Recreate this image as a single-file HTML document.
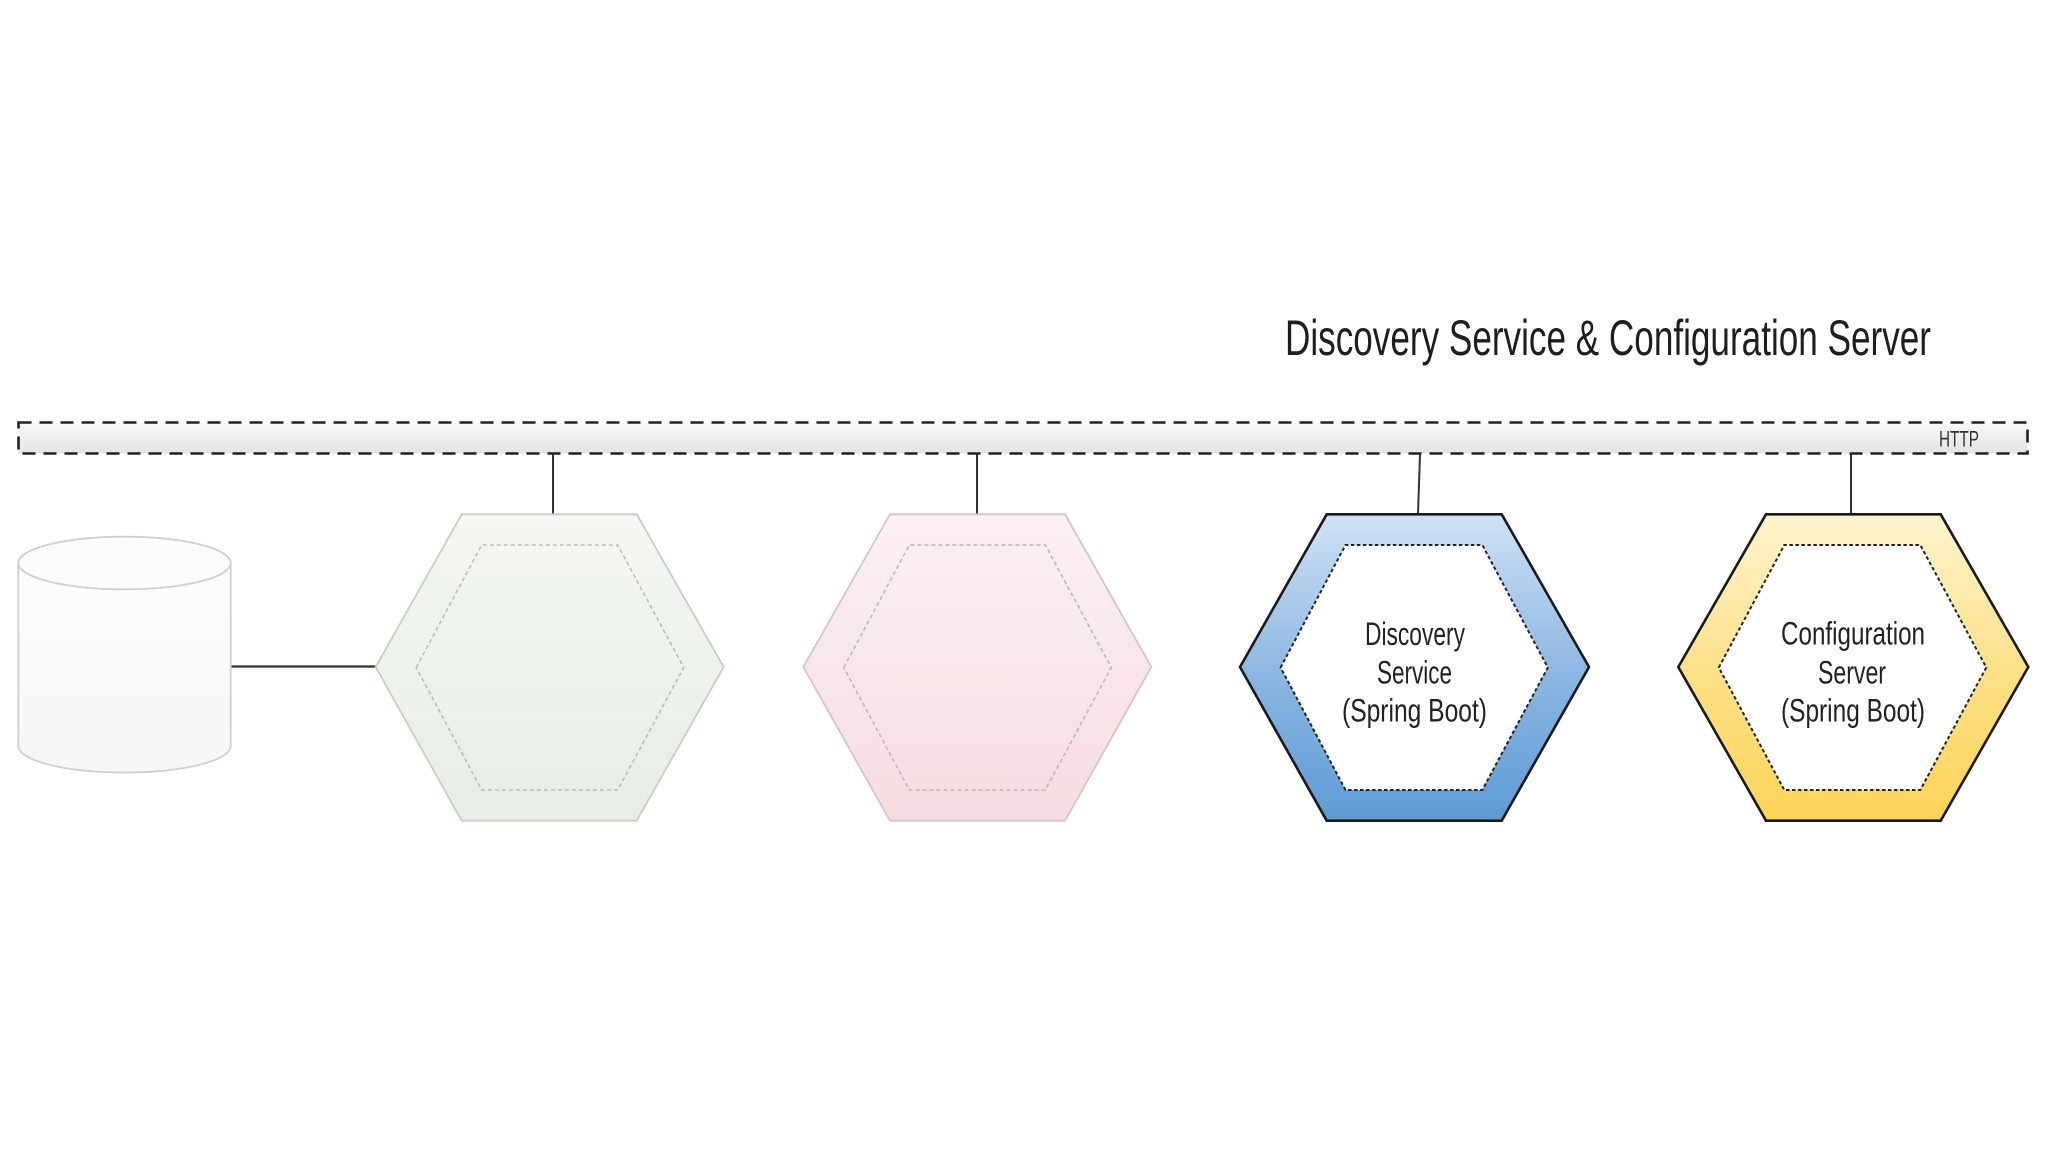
<!DOCTYPE html>
<html>
<head>
<meta charset="utf-8">
<style>
  html, body { margin: 0; padding: 0; background: #ffffff; }
  body { width: 2048px; height: 1152px; overflow: hidden; }
  svg { display: block; }
  text { font-family: "Liberation Sans", "DejaVu Sans", sans-serif; }
</style>
</head>
<body>
<svg width="2048" height="1152" viewBox="0 0 2048 1152" xmlns="http://www.w3.org/2000/svg">
  <defs>
    <linearGradient id="barG" x1="0" y1="0" x2="0" y2="1">
      <stop offset="0" stop-color="#f8f8f8"/>
      <stop offset="1" stop-color="#e4e4e4"/>
    </linearGradient>
    <linearGradient id="greenG" x1="0" y1="0" x2="0" y2="1">
      <stop offset="0" stop-color="#f4f7f2"/>
      <stop offset="1" stop-color="#e7eee5"/>
    </linearGradient>
    <linearGradient id="pinkG" x1="0" y1="0" x2="0" y2="1">
      <stop offset="0" stop-color="#fcf1f3"/>
      <stop offset="1" stop-color="#f5dce1"/>
    </linearGradient>
    <linearGradient id="blueG" x1="0" y1="0" x2="0" y2="1">
      <stop offset="0" stop-color="#cfe2f5"/>
      <stop offset="0.5" stop-color="#8fb8e3"/>
      <stop offset="1" stop-color="#5d9bd5"/>
    </linearGradient>
    <linearGradient id="yellowG" x1="0" y1="0" x2="0" y2="1">
      <stop offset="0" stop-color="#fef4d0"/>
      <stop offset="0.5" stop-color="#fde18a"/>
      <stop offset="1" stop-color="#fbd457"/>
    </linearGradient>
    <linearGradient id="cylG" x1="0" y1="0" x2="0" y2="1">
      <stop offset="0" stop-color="#fdfdfd"/>
      <stop offset="1" stop-color="#f6f6f6"/>
    </linearGradient>
  </defs>

  <!-- Title -->
  <text x="1285" y="355" font-size="50" fill="#1e1e1e" textLength="646" lengthAdjust="spacingAndGlyphs">Discovery Service &amp; Configuration Server</text>

  <!-- HTTP bar -->
  <rect x="18.5" y="422.5" width="2009" height="31" fill="url(#barG)" stroke="#222" stroke-width="2.6" stroke-dasharray="13 8"/>
  <text x="1939" y="446.5" font-size="22" fill="#333" textLength="40" lengthAdjust="spacingAndGlyphs">HTTP</text>

  <!-- connectors -->
  <line x1="553" y1="454" x2="553" y2="514" stroke="#333" stroke-width="2"/>
  <line x1="977" y1="454" x2="977" y2="514" stroke="#333" stroke-width="2"/>
  <line x1="1420" y1="454" x2="1418" y2="514" stroke="#333" stroke-width="2"/>
  <line x1="1851" y1="454" x2="1851" y2="514" stroke="#333" stroke-width="2"/>
  <line x1="230.7" y1="666.5" x2="376" y2="666.5" stroke="#333" stroke-width="2.2"/>

  <!-- Cylinder -->
  <path d="M18.3,563 L18.3,746 A106.2,26.5 0 0 0 230.7,746 L230.7,563 Z" fill="url(#cylG)" stroke="#cfcfcf" stroke-width="1.8"/>
  <ellipse cx="124.5" cy="563" rx="106.2" ry="26.3" fill="#fcfcfc" stroke="#cfcfcf" stroke-width="1.8"/>

  <!-- Green hex (L=375.7) -->
  <polygon points="375.7,667 461.7,514.3 636.7,514.3 723.7,667 636.7,820.7 461.7,820.7" fill="url(#greenG)" stroke="#c9cdc7" stroke-width="1.8"/>
  <polygon points="416.2,667.5 481.7,545 617.7,545 683.7,667.5 617.7,790 481.7,790" fill="none" stroke="#b9bcb8" stroke-width="1.6" stroke-dasharray="4 3"/>

  <!-- Pink hex (L=803.3) -->
  <polygon points="803.3,667 890,514.3 1065,514.3 1151.3,667 1065,820.7 890,820.7" fill="url(#pinkG)" stroke="#d3c5c8" stroke-width="1.8"/>
  <polygon points="843.8,667.5 909.3,545 1045.3,545 1111.3,667.5 1045.3,790 909.3,790" fill="none" stroke="#c2b3b6" stroke-width="1.6" stroke-dasharray="4 3"/>

  <!-- Blue hex (L=1240) -->
  <polygon points="1240,667 1326.7,514.3 1501.7,514.3 1589,667 1501.7,820.7 1326.7,820.7" fill="url(#blueG)" stroke="#1a1a1a" stroke-width="2.6"/>
  <polygon points="1280.6,667.5 1345.5,545 1482.3,545 1547.8,667.5 1482.3,790 1345.5,790" fill="#ffffff" stroke="#222" stroke-width="2" stroke-dasharray="3.5 2.5"/>
  <text x="1365" y="645" font-size="32" fill="#222" textLength="100" lengthAdjust="spacingAndGlyphs">Discovery</text>
  <text x="1377" y="683.3" font-size="32" fill="#222" textLength="75" lengthAdjust="spacingAndGlyphs">Service</text>
  <text x="1342" y="721.7" font-size="32" fill="#222" textLength="145" lengthAdjust="spacingAndGlyphs">(Spring Boot)</text>

  <!-- Yellow hex (L=1678.3) -->
  <polygon points="1678.3,667 1766,514.3 1940.7,514.3 2028.3,667 1940.7,820.7 1766,820.7" fill="url(#yellowG)" stroke="#1a1a1a" stroke-width="2.6"/>
  <polygon points="1718.8,667.5 1784.3,545 1920.3,545 1986.3,667.5 1920.3,790 1784.3,790" fill="#ffffff" stroke="#222" stroke-width="2" stroke-dasharray="3.5 2.5"/>
  <text x="1781" y="644.5" font-size="32" fill="#222" textLength="144" lengthAdjust="spacingAndGlyphs">Configuration</text>
  <text x="1818" y="683.3" font-size="32" fill="#222" textLength="68" lengthAdjust="spacingAndGlyphs">Server</text>
  <text x="1781" y="721.7" font-size="32" fill="#222" textLength="144" lengthAdjust="spacingAndGlyphs">(Spring Boot)</text>
</svg>
</body>
</html>
